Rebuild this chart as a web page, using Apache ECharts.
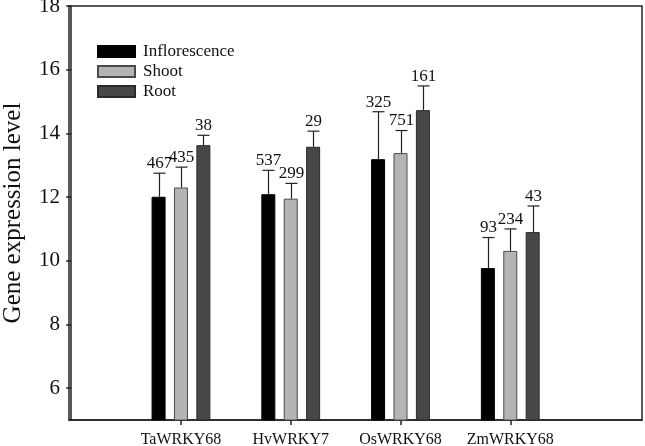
<!DOCTYPE html>
<html>
<head>
<meta charset="utf-8">
<script src="https://cdn.jsdelivr.net/npm/echarts@6/dist/echarts.min.js"></script>
<style>
  html, body { margin: 0; padding: 0; background: #fff; }
  #chart { width: 645px; height: 446px; }
</style>
</head>
<body>
<div id="chart"></div>
<script>
const categories = ['TaWRKY68', 'HvWRKY7', 'OsWRKY68', 'ZmWRKY68'];
const seriesNames = ['Inflorescence', 'Shoot', 'Root'];

const inflorescence = [12.01, 12.09, 13.19, 9.77];
const inflorescenceErr = [12.75, 12.84, 14.68, 10.73];
const inflorescenceLabels = ['467', '537', '325', '93'];

const shoot = [12.30, 11.95, 13.38, 10.31];
const shootErr = [12.94, 12.43, 14.09, 11.00];
const shootLabels = ['435', '299', '751', '234'];

const root = [13.63, 13.58, 14.73, 10.90];
const rootErr = [13.94, 14.07, 15.49, 11.72];
const rootLabels = ['38', '29', '161', '43'];

const yTicks = [6, 8, 10, 12, 14, 16, 18];
const xTicks = [1, 2, 3, 4];

const FONT = "'Liberation Serif', 'Times New Roman', serif";
const BAR_W = 14;
const BAR_GAP = 8.4;

const chart = echarts.init(document.getElementById('chart'));

// x positions 1..4 for the genes
const pos = categories.map((_, i) => i + 1);

function barSeries(name, values, color, border) {
  return {
    name: name,
    type: 'bar',
    barWidth: BAR_W,
    barGap: (BAR_GAP / BAR_W * 100) + '%',
    data: values.map((v, i) => [pos[i], v]),
    itemStyle: { color: color, borderColor: border, borderWidth: 1 },
    z: 2
  };
}

function errSeries(k, values, tops, labels) {
  const offset = (k - 1) * (BAR_W + BAR_GAP);
  return {
    type: 'custom',
    name: seriesNames[k] + ' err',
    data: values.map((v, i) => [pos[i], v, tops[i]]),
    z: 3,
    silent: true,
    renderItem: (params, api) => {
      const p0 = api.coord([api.value(0), api.value(1)]);
      const p1 = api.coord([api.value(0), api.value(2)]);
      const x = Math.round(p0[0] + offset) + 0.5;
      const style = { stroke: '#222', lineWidth: 1.2 };
      return {
        type: 'group',
        children: [
          { type: 'line', shape: { x1: x, y1: p0[1], x2: x, y2: p1[1] }, style: style },
          { type: 'line', shape: { x1: x - 6, y1: p1[1], x2: x + 6, y2: p1[1] }, style: style },
          {
            type: 'text',
            style: {
              x: x, y: p1[1] - 1,
              text: labels[params.dataIndex],
              fill: '#111',
              font: '17px ' + FONT,
              align: 'center',
              verticalAlign: 'bottom'
            }
          }
        ]
      };
    }
  };
}

const option = {
  backgroundColor: '#fff',
  animation: false,
  textStyle: { fontFamily: FONT },
  grid: {
    left: 69, top: 6, right: 3, bottom: 26,
    outerBoundsMode: 'none',
    show: true, borderColor: '#222', borderWidth: 1.5
  },
  legend: {
    data: seriesNames,
    orient: 'vertical',
    left: 97, top: 43,
    padding: 0,
    itemWidth: 37, itemHeight: 11, itemGap: 3,
    icon: 'rect',
    textStyle: { fontFamily: FONT, fontSize: 17, color: '#111', padding: [0, 0, 0, 3] }
  },
  xAxis: {
    type: 'value',
    min: -0.02, max: 5.2,
    splitLine: { show: false },
    axisLine: { lineStyle: { color: '#222', width: 1.5 } },
    axisTick: { customValues: xTicks, length: 5, lineStyle: { color: '#222', width: 1.5 } },
    axisLabel: {
      customValues: xTicks,
      margin: 12,
      color: '#111', fontSize: 16, fontFamily: FONT,
      formatter: v => categories[Math.round(v) - 1] || ''
    }
  },
  yAxis: {
    type: 'value',
    min: 5, max: 18,
    name: 'Gene expression level',
    nameLocation: 'middle',
    nameGap: 43,
    nameTextStyle: { fontFamily: FONT, fontSize: 25, color: '#111' },
    splitLine: { show: false },
    axisLine: { show: true, lineStyle: { color: '#222', width: 1.5 } },
    axisTick: { show: true, customValues: yTicks, length: 5, lineStyle: { color: '#222', width: 1.5 } },
    axisLabel: { customValues: yTicks, margin: 9, color: '#111', fontSize: 21, fontFamily: FONT }
  },
  series: [
    barSeries('Inflorescence', inflorescence, '#000000', '#000000'),
    barSeries('Shoot', shoot, '#b4b4b4', '#4a4a4a'),
    barSeries('Root', root, '#474747', '#2a2a2a'),
    errSeries(0, inflorescence, inflorescenceErr, inflorescenceLabels),
    errSeries(1, shoot, shootErr, shootLabels),
    errSeries(2, root, rootErr, rootLabels)
  ]
};

chart.setOption(option);
</script>
</body>
</html>
